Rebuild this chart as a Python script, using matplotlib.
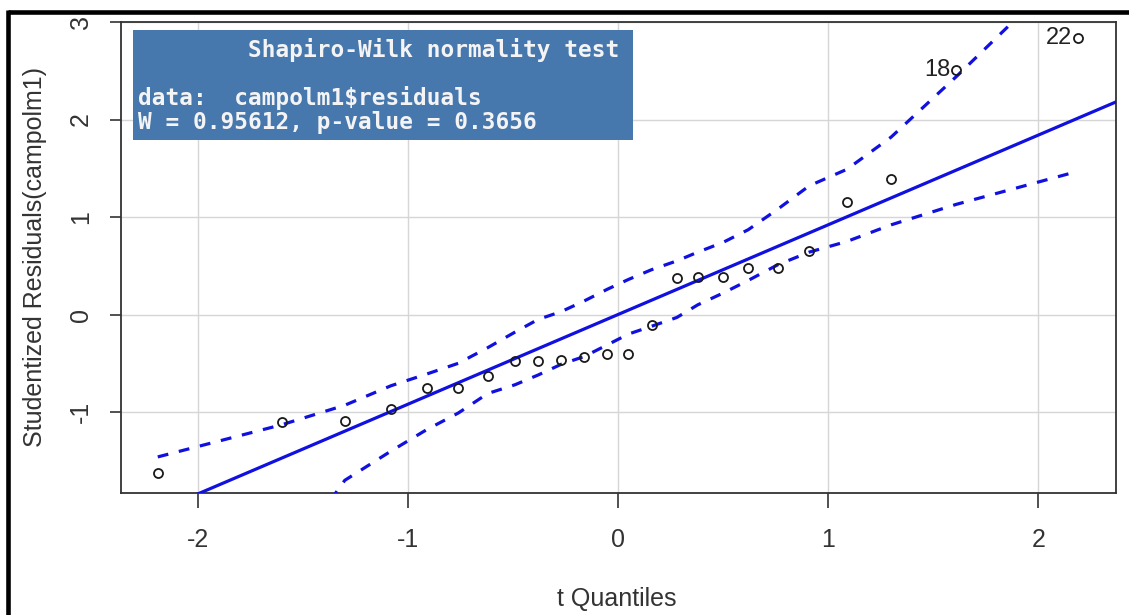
import matplotlib
matplotlib.use('Agg')
import matplotlib.pyplot as plt
from matplotlib.patches import Rectangle
from matplotlib.lines import Line2D
import numpy as np

# t quantiles vs studentized residuals
t_quant = [-2.19, -1.60, -1.30, -1.08, -0.91, -0.76, -0.62, -0.49, -0.38, -0.27, -0.16, -0.05,
           0.05, 0.16, 0.28, 0.38, 0.50, 0.62, 0.76, 0.91, 1.09, 1.30, 1.61, 2.19]
stud_res = [-1.63, -1.10, -1.09, -0.97, -0.75, -0.75, -0.63, -0.48, -0.48, -0.47, -0.44, -0.40,
            -0.40, -0.11, 0.37, 0.39, 0.39, 0.48, 0.48, 0.65, 1.15, 1.39, 2.51, 2.84]
env_upper = [-1.46, -1.13, -0.93, -0.73, -0.61, -0.50, -0.34, -0.18, -0.05, 0.03, 0.14, 0.26,
             0.36, 0.46, 0.55, 0.64, 0.74, 0.87, 1.08, 1.32, 1.49, 1.82, 2.44, 3.65]
env_lower = [-3.40, -2.60, -1.70, -1.40, -1.18, -1.01, -0.81, -0.72, -0.62, -0.51, -0.43, -0.31,
             -0.20, -0.12, -0.03, 0.10, 0.22, 0.35, 0.51, 0.64, 0.75, 0.92, 1.13, 1.47]
fit_intercept = 0.0
fit_slope = 0.92
outlier_pos = [22, 23]
outlier_lab = ["18", "22"]

xticks = [-2, -1, 0, 1, 2]
yticks = [-1, 0, 1, 2, 3]

sw_lines = ["        Shapiro-Wilk normality test",
            "",
            "data:  campolm1$residuals",
            "W = 0.95612, p-value = 0.3656"]

W, H = 1129, 615
narrow = ['Liberation Sans Narrow', 'Liberation Sans', 'DejaVu Sans']
regular = ['Liberation Sans', 'DejaVu Sans']
txtcol = '#333333'
blue = '#1010e0'

fig = plt.figure(figsize=(W / 100, H / 100), dpi=100)
ax = fig.add_axes([121 / W, 1 - 493 / H, (1116 - 121) / W, (493 - 22) / H])
ax.set_xlim(-2.365, 2.37)
ax.set_ylim(-1.83, 3.0)

ax.grid(True, color='#d6d6d6', lw=1.0)
ax.set_axisbelow(True)

xx = np.array([-2.6, 2.6])
ax.plot(xx, fit_intercept + fit_slope * xx, color=blue, lw=2.3, zorder=3)
ax.plot(t_quant, env_upper, color=blue, lw=2.3, ls=(0, (3.4, 3.4)), zorder=3)
ax.plot(t_quant, env_lower, color=blue, lw=2.3, ls=(0, (3.4, 3.4)), zorder=3)
ax.plot(t_quant, stud_res, 'o', mfc='none', mec='#1a1a1a', mew=1.3, ms=6.5, zorder=4)

for i, lab in zip(outlier_pos, outlier_lab):
    ax.annotate(lab, (t_quant[i], stud_res[i]), xytext=(-4, 0), textcoords='offset points',
                ha='right', va='center', fontsize=17, family=narrow, color='#222222')

ax.set_xticks(xticks)
ax.set_yticks(yticks)
ax.set_xticklabels([str(v) for v in xticks], family=narrow, fontsize=18, color=txtcol)
ax.set_yticklabels([str(v) for v in yticks], family=narrow, fontsize=18, color=txtcol,
                   rotation=90, va='center')
ax.tick_params(axis='x', length=11, width=1.2, pad=14, color='#333333')
ax.tick_params(axis='y', length=8, width=1.2, pad=12, color='#333333')
for s in ax.spines.values():
    s.set_color('#333333')
    s.set_linewidth(1.3)

fig.text(617 / W, 1 - 599 / H, 't Quantiles', ha='center', va='center',
         family=narrow, fontsize=18, color=txtcol)
fig.text(35 / W, 1 - 257 / H, 'Studentized Residuals(campolm1)', ha='center', va='center',
         rotation=90, family=regular, fontsize=18, color=txtcol)

# Shapiro-Wilk box pasted on top
fig.patches.append(Rectangle((133 / W, 1 - 140 / H), 500 / W, 110 / H,
                             transform=fig.transFigure, facecolor='#4677ad',
                             edgecolor='none', zorder=5))
line_y = [50, 74, 98, 123]
for txt, yy in zip(sw_lines, line_y):
    fig.text(138 / W, 1 - yy / H, txt, ha='left', va='center', family='DejaVu Sans Mono',
             fontsize=16.4, color='#f4f4f4', weight='semibold', zorder=6)

# black frame (top and left edges)
fig.lines.append(Line2D([8 / W, 1.0], [1 - 11.7 / H, 1 - 11.7 / H], transform=fig.transFigure,
                        color='black', lw=3.3, solid_capstyle='butt'))
fig.lines.append(Line2D([8.3 / W, 8.3 / W], [0.0, 1 - 10 / H], transform=fig.transFigure,
                        color='black', lw=3.3, solid_capstyle='butt'))

fig.savefig('out.png', dpi=100)
